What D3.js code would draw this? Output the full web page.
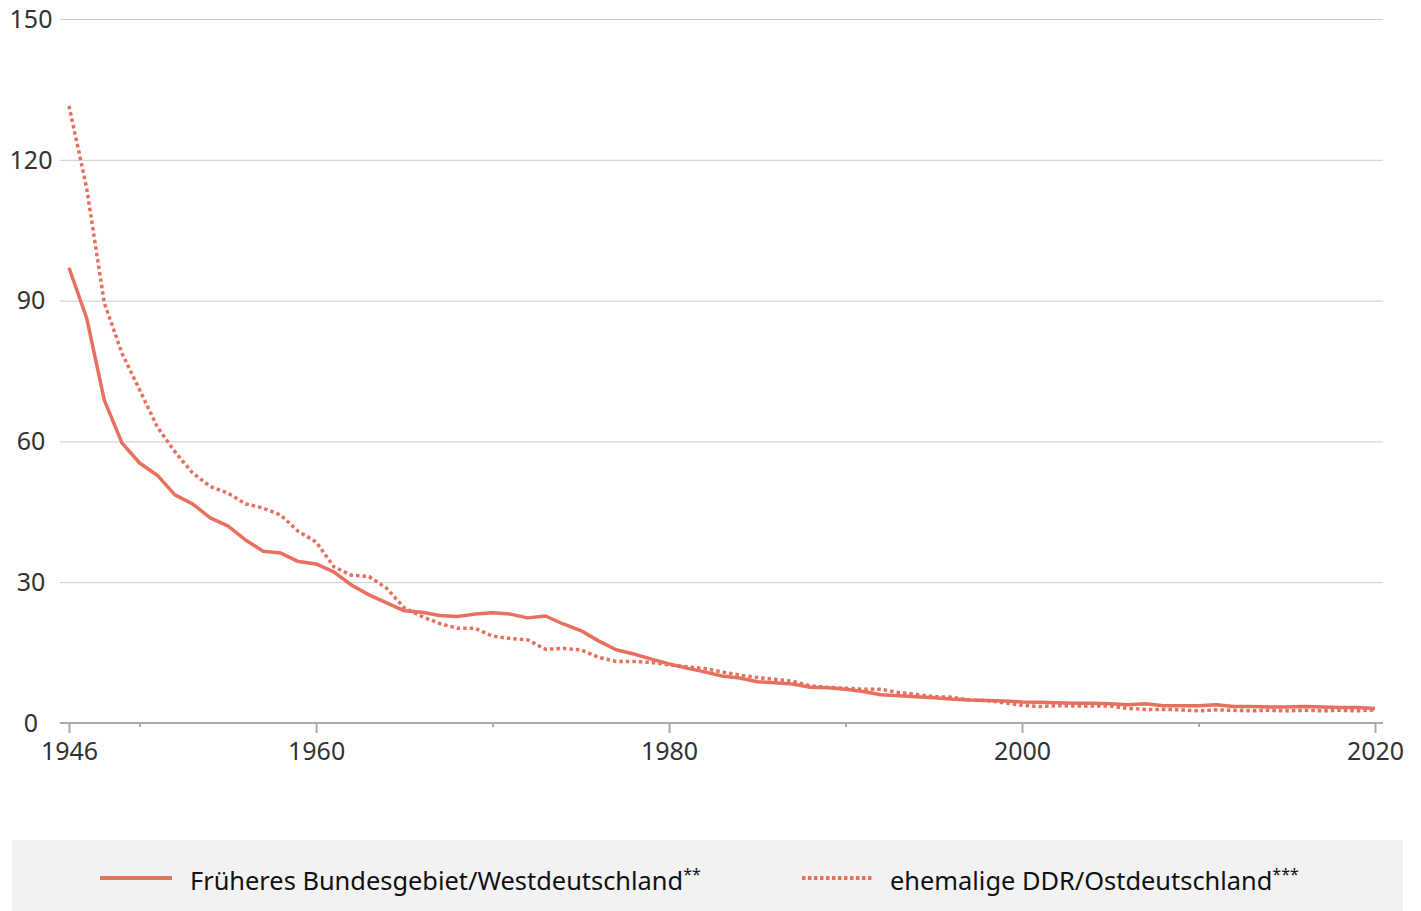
<!DOCTYPE html>
<html>
<head>
<meta charset="utf-8">
<script src="https://cdn.jsdelivr.net/npm/d3@7"></script>
<style>
  body { margin: 0; background: #fff; }
  text { font-family: "Noto Sans", sans-serif; }
</style>
</head>
<body>
<div id="svg"></div>
<script>
let w = 1421;
let h = 911;

let years = d3.range(1946, 2021);
let west = [97.0, 86.3, 68.8, 59.7, 55.4, 52.8, 48.6, 46.7, 43.7, 42.0,
            39.0, 36.6, 36.2, 34.4, 33.9, 32.2, 29.4, 27.3, 25.6, 23.9,
            23.6, 22.9, 22.7, 23.2, 23.5, 23.2, 22.4, 22.8, 21.1, 19.7,
            17.5, 15.6, 14.7, 13.6, 12.6, 11.7, 10.9, 10.0, 9.6, 8.8,
            8.6, 8.3, 7.6, 7.5, 7.2, 6.7, 6.0, 5.8, 5.6, 5.4,
            5.1, 4.9, 4.8, 4.7, 4.5, 4.4, 4.3, 4.2, 4.2, 4.1,
            3.9, 4.1, 3.7, 3.7, 3.7, 3.9, 3.5, 3.5, 3.4, 3.4,
            3.5, 3.4, 3.3, 3.3, 3.1];
let east = [131.5, 114.0, 89.5, 78.8, 71.0, 63.1, 57.8, 53.3, 50.4, 49.0,
            46.7, 45.8, 44.3, 40.8, 38.6, 33.3, 31.5, 31.2, 28.7, 24.5,
            22.7, 21.2, 20.2, 20.2, 18.5, 18.0, 17.7, 15.7, 15.9, 15.6,
            14.0, 13.1, 13.1, 12.9, 12.4, 12.0, 11.6, 10.9, 10.2, 9.7,
            9.3, 8.9, 7.9, 7.6, 7.4, 7.2, 7.2, 6.5, 6.1, 5.6,
            5.5, 4.9, 4.8, 4.3, 3.8, 3.5, 3.7, 3.6, 3.6, 3.6,
            3.1, 2.9, 2.9, 2.8, 2.6, 2.8, 2.7, 2.6, 2.7, 2.6,
            2.7, 2.6, 2.7, 2.6, 2.8];
let yTicks = [0, 30, 60, 90, 120, 150];
let xTicks = [1946, 1960, 1980, 2000, 2020];
let xMinor = [1950, 1970, 1990, 2010];
let seriesNames = ['Früheres Bundesgebiet/Westdeutschland', 'ehemalige DDR/Ostdeutschland'];
let seriesMarks = ['**', '***'];

let color = '#e8705f';

let svg = d3.select('#svg')
  .append('svg')
  .attr('width', w)
  .attr('height', h);

let xScale = d3.scaleLinear().domain([1946, 2020]).range([69, 1375]);
let yScale = d3.scaleLinear().domain([0, 150]).range([723, 19]);

// gridlines
svg.selectAll('.grid')
  .data(yTicks.filter(d => d > 0))
  .enter()
  .append('line')
  .attr('x1', 60)
  .attr('x2', 1383)
  .attr('y1', d => yScale(d) + 0.5)
  .attr('y2', d => yScale(d) + 0.5)
  .style('stroke', '#cccccc')
  .style('stroke-width', 1);

// y labels
svg.selectAll('.ylab')
  .data(yTicks)
  .enter()
  .append('text')
  .attr('x', 31)
  .attr('y', d => yScale(d))
  .attr('dy', '0.35em')
  .attr('text-anchor', 'middle')
  .style('font-size', '25px')
  .style('fill', '#333')
  .text(d => d);

// x axis
let xAxis = d3.axisBottom(xScale).tickValues(xTicks).tickSize(10).tickPadding(9).tickFormat(d3.format('d'));
let gx = svg.append('g')
  .attr('transform', 'translate(0,723)')
  .call(xAxis);
gx.select('.domain').remove();
gx.selectAll('.tick line').style('stroke', '#aaa').style('stroke-width', 2);
gx.selectAll('.tick text').style('font-size', '25px').style('fill', '#333').style('font-family', '"Noto Sans", sans-serif');

let minorAxis = d3.axisBottom(xScale).tickValues(xMinor).tickSize(4).tickFormat('');
let gm = svg.append('g')
  .attr('transform', 'translate(0,723)')
  .call(minorAxis);
gm.select('.domain').remove();
gm.selectAll('.tick line').style('stroke', '#aaa').style('stroke-width', 2);

svg.append('line')
  .attr('x1', 60).attr('x2', 1383)
  .attr('y1', 723).attr('y2', 723)
  .style('stroke', '#aaa')
  .style('stroke-width', 2);

// lines
let line = d3.line()
  .x((d, i) => xScale(years[i]))
  .y(d => yScale(d));

svg.append('path')
  .datum(east)
  .attr('d', line)
  .style('fill', 'none')
  .style('stroke', color)
  .style('stroke-width', 3.5)
  .style('stroke-dasharray', '3.5,3');

svg.append('path')
  .datum(west)
  .attr('d', line)
  .style('fill', 'none')
  .style('stroke', color)
  .style('stroke-width', 3.5)
  .style('stroke-linejoin', 'round');

// legend
svg.append('rect')
  .attr('x', 12)
  .attr('y', 840)
  .attr('width', 1391)
  .attr('height', 71)
  .style('fill', '#f2f2f2');

let legendX = [100, 802];
let textX = [190, 890];
seriesNames.forEach((name, i) => {
  svg.append('line')
    .attr('x1', legendX[i])
    .attr('x2', legendX[i] + 72)
    .attr('y1', 878)
    .attr('y2', 878)
    .style('stroke', color)
    .style('stroke-width', 4)
    .style('stroke-dasharray', i === 1 ? '3.5,2.5' : null);
  let t = svg.append('text')
    .attr('x', textX[i])
    .attr('y', 890)
    .style('font-size', '25.4px')
    .style('fill', '#111');
  t.append('tspan').text(name);
  t.append('tspan')
    .attr('dy', -10)
    .style('font-size', '16px')
    .text(seriesMarks[i]);
});
</script>
</body>
</html>
